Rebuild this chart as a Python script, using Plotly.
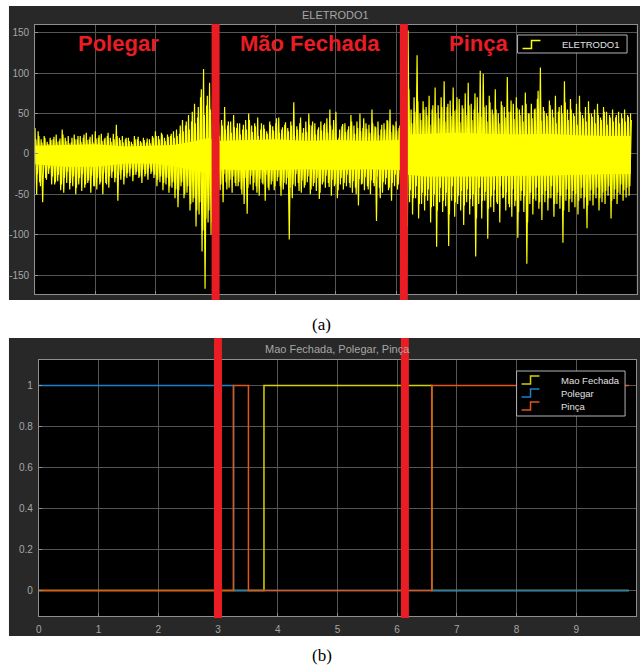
import plotly.graph_objects as go

# ---------------- data ----------------
EMG_DT = 0.05  # spacing of the read peak samples (s)

# outer positive peaks, t = 0, 0.05, 0.10, ...
emg_pos = [
    # Polegar (0 - 2.3)
    32, 28, 18, 22, 15, 20, 18, 24, 16, 30,
    20, 22, 14, 24, 18, 22, 20, 26, 18, 24,
    28, 20, 25, 18, 22, 20, 25, 36, 20, 22,
    18, 20, 15, 22, 18, 16, 20, 14, 18, 22,
    28, 22, 26, 20, 24, 22, 28,
    # transition (2.35 - 2.95)
    30, 25, 42, 35, 48, 40, 62, 45, 70, 105, 60, 88, 75,
    # Mao Fechada (3.0 - 6.1)
    30, 38, 42, 58, 35, 40, 48, 32, 38, 30,
    42, 50, 35, 38, 45, 30, 36, 28, 40, 34,
    38, 45, 30, 36, 32, 40, 64, 34, 38, 26,
    40, 50, 35, 38, 30, 40, 36, 44, 55, 30,
    52, 20, 34, 38, 30, 48, 35, 40, 50, 32,
    38, 36, 55, 34, 40, 30, 38, 42, 55, 36,
    40, 32, 38,
    # Pinca (6.15 - 9.9)
    60, 153, 55, 70, 122, 50, 65, 58, 72, 55,
    82, 60, 70, 90, 58, 66, 82, 55, 68, 60,
    75, 88, 62, 55, 70, 103, 99, 60, 72, 55,
    80, 50, 65, 58, 95, 52, 62, 70, 55, 60,
    76, 50, 62, 55, 68, 107, 58, 50, 66, 55,
    72, 52, 60, 90, 55, 68, 50, 62, 72, 48,
    58, 65, 50, 55, 62, 45, 58, 52, 48, 55,
    45, 52, 50, 55, 48, 50,
]

# outer negative peaks, t = 0.025, 0.075, ...
emg_neg = [
    # Polegar
    -50, -35, -60, -30, -25, -38, -38, -34, -45, -48,
    -36, -44, -40, -50, -38, -46, -42, -36, -48, -40,
    -44, -38, -50, -36, -42, -30, -35, -58, -32, -38,
    -30, -28, -34, -26, -30, -36, -28, -32, -25, -30,
    -40, -35, -45, -38, -48, -42, -55,
    # transition
    -66, -40, -55, -48, -70, -60, -90, -75, -121, -167, -85, -100, -65,
    # Mao Fechada
    -38, -45, -60, -35, -42, -48, -36, -40, -44, -62,
    -74, -38, -45, -40, -52, -36, -58, -42, -38, -45,
    -34, -40, -44, -38, -106, -55, -40, -36, -48, -42,
    -35, -50, -40, -46, -56, -38, -42, -36, -52, -40,
    -55, -38, -44, -40, -36, -48, -42, -64, -38, -45,
    -40, -50, -36, -83, -42, -48, -38, -45, -58, -40,
    -44, -38, -60,
    # Pinca
    -152, -60, -75, -55, -80, -62, -70, -58, -85, -65,
    -115, -60, -72, -65, -114, -58, -78, -62, -70, -88,
    -60, -75, -65, -127, -62, -80, -58, -105, -66, -72,
    -60, -85, -55, -70, -62, -78, -65, -104, -58, -72,
    -136, -62, -75, -58, -68, -82, -60, -70, -55, -78,
    -62, -68, -110, -58, -72, -60, -66, -75, -55, -68,
    -92, -58, -64, -55, -70, -60, -62, -52, -80, -56,
    -62, -50, -58, -54, -52,
]

# inner (denser, smaller) positive peaks, t = 0.0125, 0.0625, ...
inner_pos = [
    18, 22, 14, 20, 12, 17, 21, 15, 19, 24,
    16, 13, 20, 18, 22, 15, 24, 17, 21, 14,
    19, 23, 16, 20, 26, 15, 18, 22, 17, 14,
    20, 16, 12, 18, 21, 14, 17, 19, 13, 20,
    22, 18, 24, 16, 21, 25, 20,
    22, 35, 28, 40, 30, 52, 38, 58, 80, 48, 72, 55, 65,
    28, 22, 35, 30, 40, 26, 33, 38, 24, 36,
    30, 42, 27, 34, 22, 38, 31, 25, 36, 29,
    44, 26, 33, 39, 28, 35, 22, 30, 45, 32,
    27, 36, 40, 24, 33, 29, 38, 26, 35, 42,
    18, 30, 37, 27, 34, 40, 25, 32, 28, 44,
    31, 26, 38, 33, 23, 36, 30, 41, 27, 34,
    29, 35, 30,
    45, 80, 38, 52, 65, 42, 55, 48, 36, 60,
    50, 44, 58, 40, 62, 47, 53, 70, 39, 56,
    48, 60, 42, 75, 51, 46, 58, 40, 64, 49,
    55, 38, 60, 45, 52, 66, 43, 57, 48, 40,
    62, 50, 44, 56, 78, 41, 53, 47, 60, 45,
    38, 58, 50, 64, 42, 55, 47, 36, 52, 44,
    40, 50, 46, 38, 48, 42, 52, 36, 45, 40,
    48, 38, 44, 40, 46, 42,
]

# inner negative peaks, t = 0.0375, 0.0875, ...
inner_neg = [
    -25, -40, -20, -32, -18, -28, -35, -26, -38, -30,
    -22, -36, -28, -42, -30, -25, -38, -33, -27, -40,
    -30, -35, -24, -38, -28, -22, -30, -26, -20, -28,
    -24, -18, -26, -22, -28, -20, -25, -18, -22, -26,
    -32, -28, -36, -30, -40, -35, -44,
    -45, -35, -50, -40, -62, -55, -70, -60, -95, -80, -70, -85, -50,
    -30, -38, -25, -44, -32, -28, -40, -35, -50, -30,
    -42, -27, -36, -48, -31, -38, -26, -45, -34, -40,
    -29, -52, -36, -30, -42, -38, -25, -46, -33, -39,
    -28, -44, -36, -30, -48, -35, -27, -41, -32, -38,
    -45, -30, -36, -26, -42, -34, -50, -31, -37, -29,
    -44, -33, -40, -28, -55, -35, -30, -42, -36, -26,
    -38, -32, -40,
    -90, -45, -55, -40, -62, -48, -52, -44, -66, -50,
    -70, -42, -58, -48, -75, -40, -60, -52, -46, -64,
    -44, -56, -50, -80, -42, -58, -47, -68, -52, -45,
    -62, -40, -54, -48, -66, -44, -58, -72, -46, -52,
    -85, -48, -56, -42, -60, -50, -46, -55, -40, -62,
    -48, -52, -70, -44, -56, -46, -50, -58, -42, -54,
    -64, -45, -50, -42, -55, -48, -46, -40, -58, -44,
    -48, -38, -45, -42, -40,
]

# solid dense core of the signal (upper / lower edge)
core_t = [0, 0.5, 1.0, 1.5, 2.0, 2.3, 2.6, 2.9, 3.0, 3.5, 4.0, 4.5, 5.0, 5.5, 6.1,
          6.2, 6.5, 7.0, 7.5, 8.0, 8.5, 9.0, 9.5, 9.9]
core_hi = [10, 11, 12, 9, 10, 11, 15, 20, 16, 17, 18, 16, 17, 16, 17,
           24, 25, 26, 25, 24, 25, 23, 22, 22]
core_lo = [-13, -16, -16, -12, -12, -15, -20, -25, -19, -20, -20, -19, -20, -19, -20,
           -26, -28, -28, -28, -27, -27, -26, -25, -25]

# step signals (bottom panel)
step_t = [0, 3.26, 3.51, 3.77, 6.58, 9.88]
mao_fechada = [0, 0, 0, 1, 0, 0]
polegar = [1, 0, 0, 0, 0, 0]
pinca = [0, 1, 0, 0, 1, 1]

# red division marks and region labels
divisions = [3.0, 6.13]
region_labels = ["Polegar", "Mão Fechada", "Pinça"]
region_label_x = [1.39, 4.57, 7.37]

# tick labels
top_yticks = [150, 100, 50, 0, -50, -100, -150]
top_yticktext = ["150", "100", "50", "0", "-50", "-100", "-150"]
bot_yticks = [0, 0.2, 0.4, 0.6, 0.8, 1]
bot_yticktext = ["0", "0.2", "0.4", "0.6", "0.8", "1"]
bot_xticks = list(range(0, 11))
bot_xticktext = [str(v) for v in bot_xticks]

# ---------------- build ----------------
W, H = 640, 672
def X(px):
    return px / W
def Y(py):
    return 1 - py / H

def zigzag(pos, neg, t0):
    tp = [t0 + i * EMG_DT for i in range(len(pos))]
    tn = [t0 + EMG_DT / 2 + i * EMG_DT for i in range(len(neg))]
    pr = sorted(zip(tp + tn, pos + neg))
    return [p[0] for p in pr], [p[1] for p in pr]

outer_t, outer_v = zigzag(emg_pos, emg_neg, 0.0)
inner_t, inner_v = zigzag(inner_pos, inner_neg, EMG_DT / 4)

YEL = "#ffff00"
C_MAO = "#d6d200"
C_POL = "#1f80c8"
C_PIN = "#e0561c"
RED = "#ea1c24"
FRAME = "#282828"
GRID = "#555555"
AXL = "#8f8f8f"
TXT = "#a6a6a6"

fig = go.Figure()
fig.add_trace(go.Scatter(x=core_t + core_t[::-1], y=core_hi + core_lo[::-1],
                         mode="lines", fill="toself", fillcolor=YEL,
                         line=dict(color=YEL, width=0), hoverinfo="skip",
                         xaxis="x", yaxis="y", showlegend=False))
fig.add_trace(go.Scatter(x=inner_t, y=inner_v, mode="lines", name="ELETRODO1",
                         line=dict(color=YEL, width=1.2, simplify=False),
                         xaxis="x", yaxis="y", showlegend=False))
fig.add_trace(go.Scatter(x=outer_t, y=outer_v, mode="lines", name="ELETRODO1",
                         line=dict(color=YEL, width=1.2, simplify=False),
                         xaxis="x", yaxis="y", showlegend=False))
for name, vals, col in [("Mao Fechada", mao_fechada, C_MAO),
                        ("Polegar", polegar, C_POL),
                        ("Pinça", pinca, C_PIN)]:
    fig.add_trace(go.Scatter(x=step_t, y=vals, mode="lines", name=name,
                             line=dict(color=col, width=1.5, shape="hv"),
                             xaxis="x2", yaxis="y2", showlegend=False))

axis_common = dict(showgrid=True, gridcolor=GRID, gridwidth=1, zeroline=False,
                   showline=True, linecolor=AXL, linewidth=1, mirror=True,
                   ticks="inside", ticklen=3, tickcolor=AXL,
                   tickfont=dict(family="Liberation Sans", size=10, color=TXT))

shapes = []
# dark frames
shapes.append(dict(type="rect", xref="paper", yref="paper", layer="below",
                   x0=X(6), x1=X(640), y0=Y(300), y1=Y(6),
                   fillcolor=FRAME, line=dict(width=0)))
shapes.append(dict(type="rect", xref="paper", yref="paper", layer="below",
                   x0=X(6), x1=X(640), y0=Y(636), y1=Y(338),
                   fillcolor=FRAME, line=dict(width=0)))
# black plot areas
for ax in ["", "2"]:
    shapes.append(dict(type="rect", xref="x%s domain" % ax, yref="y%s domain" % ax,
                       layer="below", x0=0, x1=1, y0=0, y1=1,
                       fillcolor="#000000", line=dict(width=0)))
# red division lines
for d in divisions:
    shapes.append(dict(type="line", xref="x", yref="paper", layer="above",
                       x0=d, x1=d, y0=Y(300), y1=Y(24),
                       line=dict(color=RED, width=8)))
    shapes.append(dict(type="line", xref="x2", yref="paper", layer="above",
                       x0=d, x1=d, y0=Y(618), y1=Y(338),
                       line=dict(color=RED, width=8)))

# legends (drawn manually, MATLAB/Simulink scope style)
def step_glyph(x0, yc, col):
    p = "M %f,%f H %f V %f H %f" % (X(x0), Y(yc + 4), X(x0 + 9), Y(yc - 4), X(x0 + 18))
    return dict(type="path", xref="paper", yref="paper", layer="above",
                path=p, line=dict(color=col, width=1.5))

shapes.append(dict(type="rect", xref="paper", yref="paper", layer="above",
                   x0=X(517), x1=X(627), y0=Y(53), y1=Y(35),
                   fillcolor="#000000", line=dict(color="#b4b4b4", width=1)))
shapes.append(step_glyph(522, 44.5, YEL))
shapes.append(dict(type="rect", xref="paper", yref="paper", layer="above",
                   x0=X(516), x1=X(625), y0=Y(416), y1=Y(371),
                   fillcolor="#000000", line=dict(color="#b4b4b4", width=1)))
leg_rows = [380, 393, 406]
for (name, col), yc in zip([("Mao Fechada", C_MAO), ("Polegar", C_POL), ("Pinça", C_PIN)], leg_rows):
    shapes.append(step_glyph(521, yc, col))

annotations = []
annotations.append(dict(text="ELETRODO1", xref="paper", yref="paper",
                        x=X(622), y=Y(44.5), xanchor="right", yanchor="middle",
                        showarrow=False, font=dict(family="Liberation Sans", size=9.5, color="#e0e0e0")))
for (name, col), yc in zip([("Mao Fechada", C_MAO), ("Polegar", C_POL), ("Pinça", C_PIN)], leg_rows):
    annotations.append(dict(text=name, xref="paper", yref="paper",
                            x=X(559), y=Y(yc), xanchor="left", yanchor="middle",
                            showarrow=False, font=dict(family="Liberation Sans", size=9.5, color="#e0e0e0")))
# titles
annotations.append(dict(text="ELETRODO1", xref="paper", yref="paper",
                        x=X(334), y=Y(15), xanchor="center", yanchor="middle",
                        showarrow=False, font=dict(family="Liberation Sans", size=11, color=TXT)))
annotations.append(dict(text="Mao Fechada, Polegar, Pinça", xref="paper", yref="paper",
                        x=X(336), y=Y(349), xanchor="center", yanchor="middle",
                        showarrow=False, font=dict(family="Liberation Sans", size=11, color=TXT)))
# region labels
for lab, lx in zip(region_labels, region_label_x):
    annotations.append(dict(text="<b>%s</b>" % lab, xref="x", yref="paper",
                            x=lx, y=Y(43), xanchor="center", yanchor="middle",
                            showarrow=False, font=dict(family="Liberation Sans", size=22, color=RED)))
# captions
annotations.append(dict(text="(a)", xref="paper", yref="paper", x=0.5, y=Y(325),
                        xanchor="center", yanchor="middle", showarrow=False,
                        font=dict(family="Liberation Serif", size=17, color="#000000")))
annotations.append(dict(text="(b)", xref="paper", yref="paper", x=0.5, y=Y(655),
                        xanchor="center", yanchor="middle", showarrow=False,
                        font=dict(family="Liberation Serif", size=17, color="#000000")))

fig.update_layout(
    width=W, height=H, margin=dict(l=0, r=0, t=0, b=0),
    paper_bgcolor="#ffffff", plot_bgcolor="rgba(0,0,0,0)",
    showlegend=False,
    xaxis=dict(domain=[X(32.3), X(636.6)], range=[0, 10], dtick=1, tick0=0,
               showticklabels=False, anchor="y", **axis_common),
    yaxis=dict(domain=[Y(294), Y(25)], range=[-173.5, 159.5],
               tickvals=top_yticks, ticktext=top_yticktext, ticklabelstandoff=3,
               anchor="x", **axis_common),
    xaxis2=dict(domain=[X(36), X(636)], range=[0, 10], tickvals=bot_xticks,
                ticktext=bot_xticktext, ticklabelstandoff=4, anchor="y2", **axis_common),
    yaxis2=dict(domain=[Y(616), Y(360)], range=[-0.125, 1.125],
                tickvals=bot_yticks, ticktext=bot_yticktext, ticklabelstandoff=3,
                anchor="x2", **axis_common),
    shapes=shapes, annotations=annotations,
)

fig.write_html("out.html", config={"displayModeBar": False},
               post_script="document.body.style.margin='0px';"
                           "document.body.style.overflow='hidden';")
